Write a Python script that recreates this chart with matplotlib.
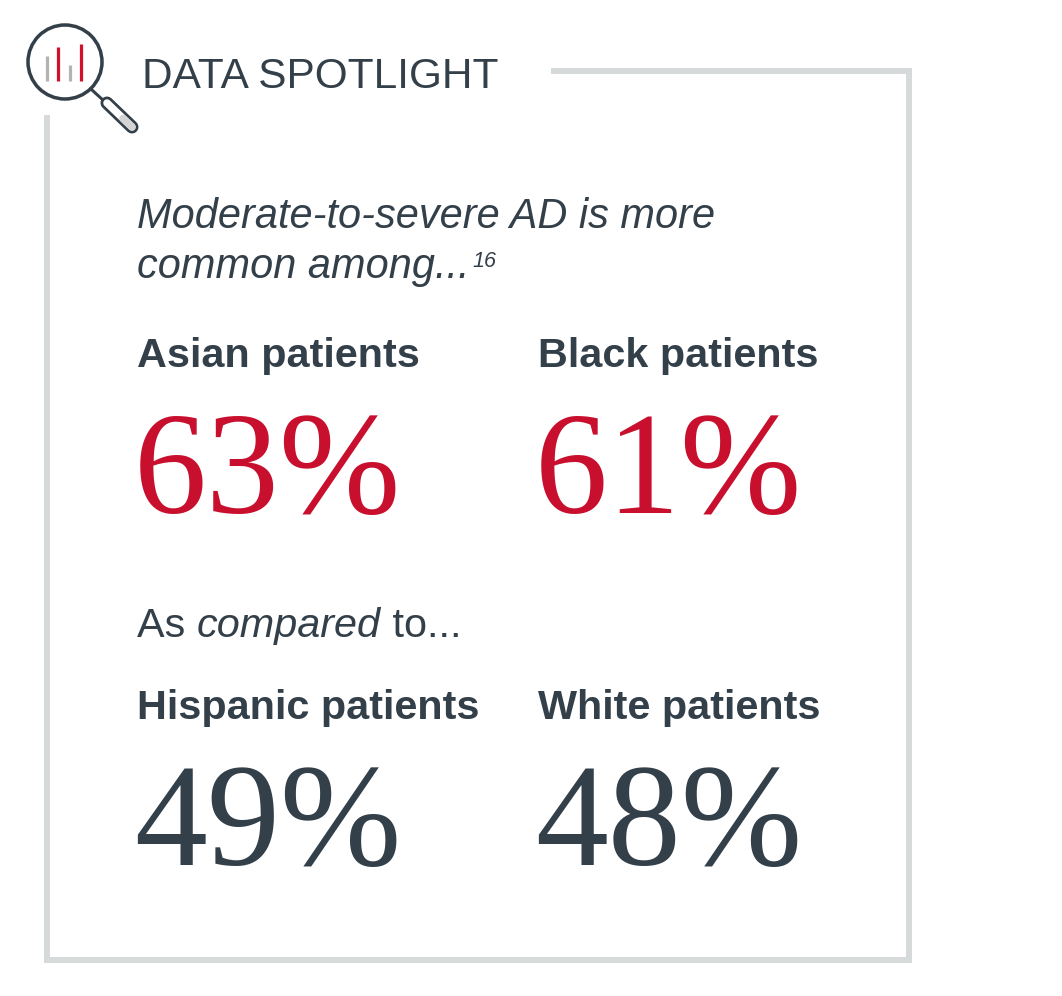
import numpy as np
import matplotlib.pyplot as plt
from matplotlib.patches import Circle

# data
groups = ['Asian patients', 'Black patients', 'Hispanic patients', 'White patients']
values = [63, 61, 49, 48]
highlight = [True, True, False, False]
icon_bars = [25, 34, 16, 37]
icon_colors = ['#b3b3b3', '#d0112b', '#b3b3b3', '#d0112b']

DARK = '#333f49'
RED = '#c8102e'
FRAME = '#d6dada'
SANS = 'Liberation Sans'
SERIF = 'Liberation Serif'

W, H = 1062, 996
fig = plt.figure(figsize=(W / 100, H / 100), dpi=100)
ax = fig.add_axes([0, 0, 1, 1])
ax.set_xlim(0, W)
ax.set_ylim(H, 0)
ax.axis('off')

px = 0.72  # pixel -> point

# frame
ax.plot([551, 909, 909, 47, 47], [71, 71, 960, 960, 115],
        color=FRAME, lw=6 * px, solid_joinstyle='miter', solid_capstyle='butt')

# magnifier icon
ax.add_patch(Circle((65, 62), 37, fill=False, ec=DARK, lw=3.5 * px))
for i, (h, c) in enumerate(zip(icon_bars, icon_colors)):
    x = 47 + i * 11.3
    ax.plot([x, x], [81, 81 - h], color=c, lw=3.2 * px, solid_capstyle='butt')
ax.plot([92, 104], [90, 101], color=DARK, lw=3 * px)
ax.plot([107, 132], [103, 127], color=DARK, lw=13 * px, solid_capstyle='round')
ax.plot([107, 132], [103, 127], color='white', lw=7.5 * px, solid_capstyle='round')
ax.plot([123, 132], [118.5, 127], color='#d4d4d4', lw=7.5 * px, solid_capstyle='round')

ax.text(142, 88, 'DATA SPOTLIGHT', family=SANS, fontsize=30.5, color=DARK,
        va='baseline', ha='left')

fig.canvas.draw()
rend = fig.canvas.get_renderer()
inv = ax.transData.inverted()


def right_edge(t):
    bb = t.get_window_extent(rend)
    return inv.transform((bb.x1, bb.y0))[0]


# intro
ax.text(137, 228, 'Moderate-to-severe AD is more', family=SANS, style='italic',
        fontsize=29.9, color=DARK, va='baseline')
t = ax.text(137, 278, 'common among...', family=SANS, style='italic',
            fontsize=29.9, color=DARK, va='baseline')
ax.text(right_edge(t) + 3, 267, '16', family=SANS, style='italic',
        fontsize=15.5, color=DARK, va='baseline')

# compared line
t1 = ax.text(137, 637, 'As ', family=SANS, fontsize=29.8, color=DARK, va='baseline')
t2 = ax.text(right_edge(t1), 637, 'compared', family=SANS, style='italic',
             fontsize=29.8, color=DARK, va='baseline')
ax.text(right_edge(t2), 637, ' to...', family=SANS, fontsize=29.8,
        color=DARK, va='baseline')

# groups and values
col_x = [137, 538, 137, 538]
label_y = [367, 367, 719, 719]
value_y = [513, 513, 865, 865]
for g, v, hl, x, ly, vy in zip(groups, values, highlight, col_x, label_y, value_y):
    ax.text(x, ly, g, family=SANS, weight='bold', fontsize=29.8, color=DARK,
            va='baseline')
    ax.text(x - 3, vy, f'{v}%', family=SERIF, fontsize=105,
            color=RED if hl else DARK, va='baseline')

fig.savefig('out.png', dpi=100, facecolor='white')
